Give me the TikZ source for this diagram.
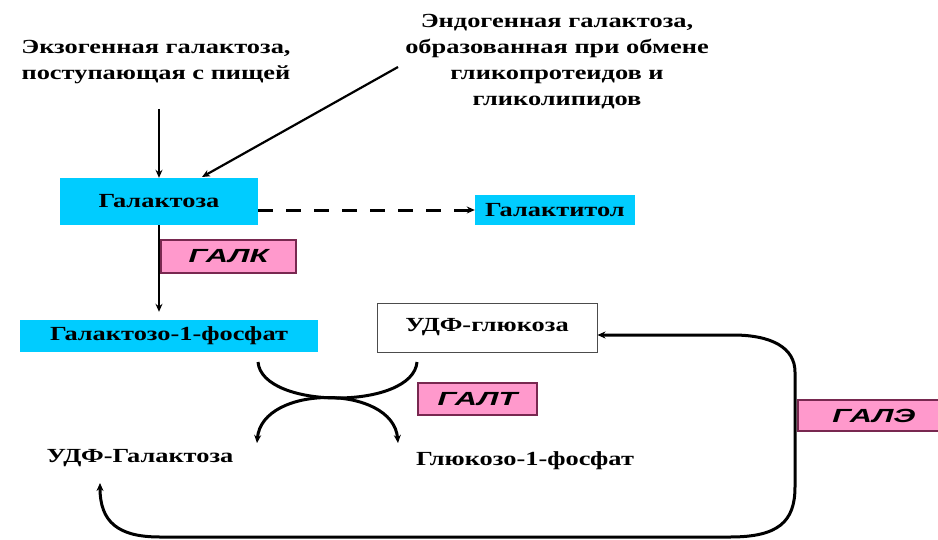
\documentclass[tikz,border=0pt]{standalone}
\usepackage{fontspec}
\setmainfont{Liberation Serif}[FakeStretch=1.32]
\newfontfamily\galfont{Liberation Sans}[FakeStretch=1.62]
\usetikzlibrary{arrows.meta}
\definecolor{cyanbox}{RGB}{0,204,255}
\definecolor{pinkbox}{RGB}{255,153,204}
\definecolor{pinkedge}{RGB}{120,40,80}
\tikzset{
  x=1pt, y=-1pt,
  txt/.style={font=\fontsize{20}{26}\selectfont\bfseries, text=black, inner sep=0pt, align=center},
  cbox/.style={txt, fill=cyanbox, draw=none},
  wbox/.style={txt, fill=white, draw=black!70, line width=1pt},
  enz/.style={fill=pinkbox, draw=pinkedge, line width=1.2pt, inner sep=0pt,
              font=\galfont\fontsize{19}{22}\selectfont\bfseries\itshape},
  tip/.style={-{Stealth[length=8pt,width=7pt]}},
  thin/.style={line width=2.2pt},
  thick/.style={line width=3pt},
}
\begin{document}
\begin{tikzpicture}
\useasboundingbox (0,0) rectangle (938,539);
% text nodes
\node[txt] (exo) at (156,62) {Экзогенная галактоза,\\поступающая с пищей};
\node[txt] (endo) at (557,62) {Эндогенная галактоза,\\образованная при обмене\\гликопротеидов и\\гликолипидов};
% boxes
\node[cbox, minimum width=198pt, minimum height=47pt] (gal) at (159,201.5) {Галактоза};
\node[cbox, minimum width=160pt, minimum height=30pt] (galt) at (555,210) {Галактитол};
\node[enz, minimum width=135pt, minimum height=33pt] (galk) at (228.5,256.5) {ГАЛК};
\node[cbox, minimum width=298pt, minimum height=32pt] (g1p) at (169,336) {Галактозо-1-фосфат};
\node[wbox, minimum width=220pt, minimum height=49pt] (udpglc) at (487,327.5) {УДФ-глюкоза};
\node[enz, minimum width=119pt, minimum height=32pt] (galT) at (477.5,399) {ГАЛТ};
\node[enz, minimum width=152pt, minimum height=31pt] (galE) at (874,415.5) {ГАЛЭ};
\node[txt] (udpgal) at (140,458) {УДФ-Галактоза};
\node[txt] (glc1p) at (525,461) {Глюкозо-1-фосфат};
% coordinates
\coordinate (endoS) at (398,67);
\coordinate (galTop) at (202,177);
\coordinate (u1) at (258,362);
\coordinate (u2) at (417,362);
\coordinate (d1) at (257,443);
\coordinate (d2) at (398,443);
\coordinate (loopA) at (100,483);
% arrows
\draw[thin, tip, shorten <=25pt] (exo.south -| gal.north) -- (gal.north);
\draw[thin, tip] (endoS) -- (galTop);
\draw[thick, tip, dash pattern=on 15pt off 13pt] (gal.east |- galt.west) -- (galt.west);
\draw[thin, tip] (gal.south) -- ([yshift=8pt]gal.south |- g1p.north);
% exchange curves
\draw[thick] (u1) .. controls (262,410) and (413,410) .. (u2);
\draw[thick, {Stealth[length=8pt,width=7pt]}-{Stealth[length=8pt,width=7pt]}] (d1) .. controls (262,384) and (393,384) .. (d2);
% epimerase loop
\draw[thick, {Stealth[length=8pt,width=7pt]}-{Stealth[length=8pt,width=7pt]}]
  (loopA) .. controls (100,522) and (118,537) .. (160,537) -- (730,537)
  .. controls (778,537) and (795,522) .. (795,487) -- (795,372)
  .. controls (795,348) and (772,335) .. (733,335) -- ([yshift=-7.5pt]udpglc.east);
\end{tikzpicture}
\end{document}
